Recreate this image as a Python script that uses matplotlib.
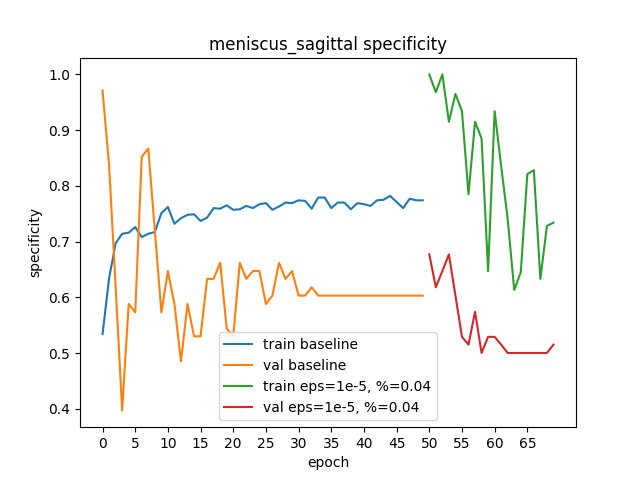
import matplotlib
matplotlib.use("Agg")
import matplotlib.pyplot as plt

train_baseline = [0.534, 0.634, 0.697, 0.714, 0.716, 0.726, 0.708, 0.714, 0.717, 0.751,
                  0.762, 0.732, 0.742, 0.748, 0.749, 0.737, 0.743, 0.760, 0.759, 0.765,
                  0.757, 0.758, 0.764, 0.760, 0.767, 0.769, 0.757, 0.763, 0.770, 0.769,
                  0.774, 0.773, 0.759, 0.779, 0.779, 0.760, 0.770, 0.770, 0.758, 0.769,
                  0.767, 0.764, 0.774, 0.775, 0.782, 0.771, 0.760, 0.777, 0.774, 0.774]
val_baseline = [0.971, 0.837, 0.620, 0.397, 0.588, 0.573, 0.852, 0.867, 0.720, 0.573,
                0.647, 0.588, 0.485, 0.588, 0.530, 0.530, 0.633, 0.633, 0.662, 0.544,
                0.530, 0.662, 0.633, 0.647, 0.647, 0.588, 0.603, 0.662, 0.633, 0.647,
                0.603, 0.603, 0.618, 0.603, 0.603, 0.603, 0.603, 0.603, 0.603, 0.603,
                0.603, 0.603, 0.603, 0.603, 0.603, 0.603, 0.603, 0.603, 0.603, 0.603]
train_eps = [1.000, 0.968, 1.000, 0.915, 0.965, 0.934, 0.785, 0.915, 0.885, 0.647,
             0.934, 0.835, 0.740, 0.613, 0.645, 0.821, 0.828, 0.633, 0.728, 0.734]
val_eps = [0.677, 0.618, 0.647, 0.677, 0.603, 0.529, 0.515, 0.574, 0.500, 0.529,
           0.529, 0.515, 0.500, 0.500, 0.500, 0.500, 0.500, 0.500, 0.500, 0.515]

epochs_base = list(range(len(train_baseline)))
epochs_eps = list(range(50, 50 + len(train_eps)))

fig, ax = plt.subplots(figsize=(6.4, 4.8), dpi=100)
ax.plot(epochs_base, train_baseline, label="train baseline")
ax.plot(epochs_base, val_baseline, label="val baseline")
ax.plot(epochs_eps, train_eps, label="train eps=1e-5, %=0.04")
ax.plot(epochs_eps, val_eps, label="val eps=1e-5, %=0.04")
ax.set_xticks(range(0, 70, 5))
ax.set_title("meniscus_sagittal specificity")
ax.set_xlabel("epoch")
ax.set_ylabel("specificity")
ax.legend(loc="lower center")
fig.savefig("out.png", dpi=100)
